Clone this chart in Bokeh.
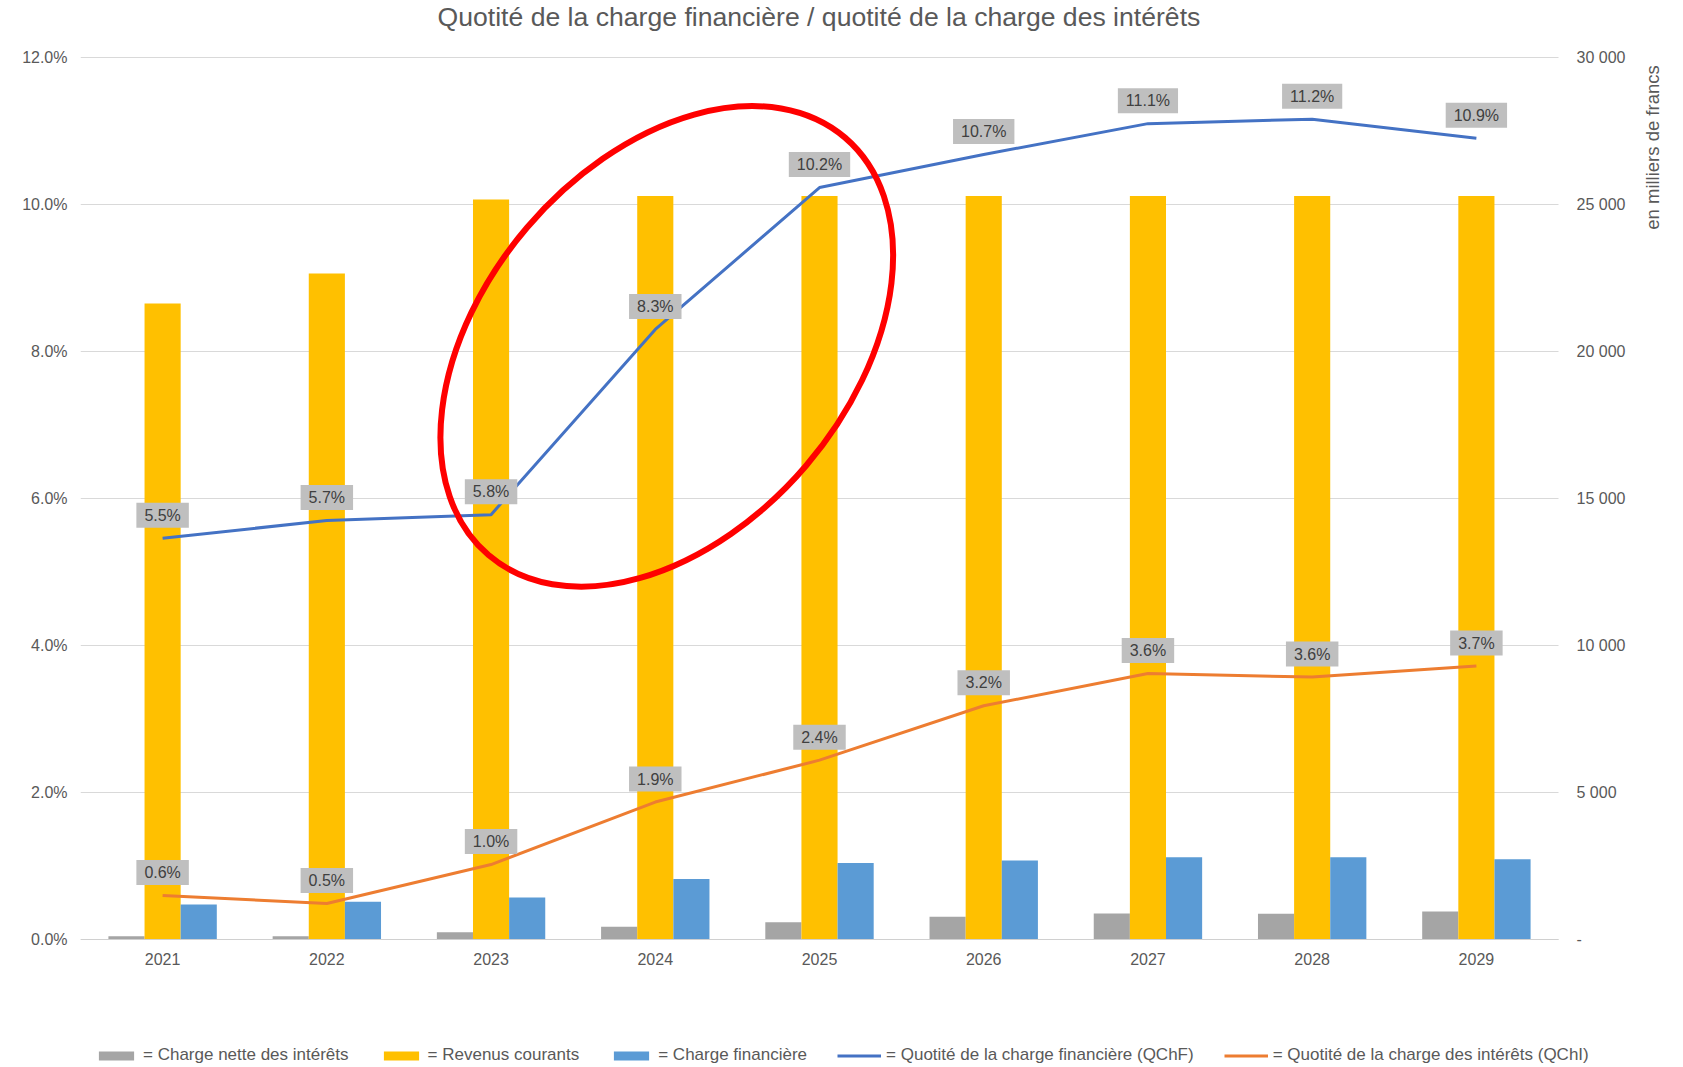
from bokeh.plotting import figure
from bokeh.models import (Range1d, LinearAxis, FixedTicker, PrintfTickFormatter,
                          Legend, LegendItem, ColumnDataSource, Title)
from bokeh.embed import file_html
from bokeh.resources import INLINE
from bokeh.core.properties import value

# ---------------- data ----------------
years = ["2021", "2022", "2023", "2024", "2025", "2026", "2027", "2028", "2029"]
charge_nette_interets = [110, 110, 250, 430, 590, 770, 885, 880, 950]          # milliers de francs
revenus_courants = [21630, 22650, 25170, 25290, 25290, 25290, 25290, 25290, 25290]
charge_financiere = [1190, 1280, 1430, 2060, 2605, 2690, 2800, 2800, 2730]
qchf = [5.46, 5.70, 5.78, 8.30, 10.23, 10.68, 11.10, 11.16, 10.90]            # %
qchi = [0.60, 0.49, 1.02, 1.87, 2.44, 3.18, 3.62, 3.57, 3.72]                  # %

left_ticks = [0, 2, 4, 6, 8, 10, 12]
right_ticks = [0, 5000, 10000, 15000, 20000, 25000, 30000]
right_tick_labels = ["-", "5 000", "10 000", "15 000", "20 000", "25 000", "30 000"]

title_text = "Quotité de la charge financière / quotité de la charge des intérêts"
right_axis_title = "en milliers de francs"
legend_labels = ["= Charge nette des intérêts", "= Revenus courants", "= Charge financière",
                 "= Quotité de la charge financière (QChF)",
                 "= Quotité de la charge des intérêts (QChI)"]

# hand-drawn red ellipse highlight (category index, % axis)
highlight_center = (3.07, 8.07)
highlight_size_px = (549, 367)
highlight_angle_deg = 49.5

FONT = "Liberation Sans"
TXT = "#595959"
GRAY, YELLOW, BLUE, LBLUE, ORANGE = "#A5A5A5", "#FFC000", "#5B9BD5", "#4472C4", "#ED7D31"

# ---------------- layout geometry (pixels) ----------------
W, H = 1680, 1067
PLOT_LEFT, PLOT_RIGHT, PLOT_TOP = 80, 1558, 57     # category area
FRAME_TOP = 44                                     # drawing frame starts a bit higher
ZERO_Y = 939                                       # pixel row of the 0 baseline
TITLE_LEFT = 437
RAXIS_TITLE_X, RAXIS_TITLE_Y = 1652, 147
PCT_MAX, MONEY_MAX = 12, 30000
n = len(years)
px_per_pct = (ZERO_Y - PLOT_TOP) / PCT_MAX
px_per_cat = (PLOT_RIGHT - PLOT_LEFT) / n
pct_min = -(H - ZERO_Y) / px_per_pct           # frame extended below 0 (legend area)
pct_top = PCT_MAX + (PLOT_TOP - FRAME_TOP) / px_per_pct
x_max = -0.5 + (W - PLOT_LEFT) / px_per_cat    # frame extended right (right axis area)
x_end = n - 0.5
money_per_pct = MONEY_MAX / PCT_MAX

idx = list(range(n))
BW = 0.22

src = ColumnDataSource(dict(
    x=idx,
    xg=[i - BW for i in idx],
    xb=[i + BW for i in idx],
    gray=charge_nette_interets,
    yellow=revenus_courants,
    blue=charge_financiere,
    qchf=qchf,
    qchi=qchi,
    qchf_lbl=[f"{v:.1f}%" for v in qchf],
    qchi_lbl=[f"{v:.1f}%" for v in qchi],
))

p = figure(width=W, height=H, output_backend="svg", toolbar_location=None,
           x_range=Range1d(-0.5, x_max), y_range=Range1d(pct_min, pct_top),
           min_border_left=PLOT_LEFT, min_border_right=0,
           min_border_top=FRAME_TOP, min_border_bottom=0)
p.extra_y_ranges = {"money": Range1d(pct_min * money_per_pct, pct_top * money_per_pct)}
p.outline_line_color = None
p.background_fill_color = "white"

# title (with a small spacer between it and the drawing frame)
try:
    p.title = None
except Exception:
    p.title.text = ""
p.add_layout(Title(text=" ", text_font_size="8px", standoff=0), "above")
p.add_layout(Title(text=title_text, align="left", offset=TITLE_LEFT - PLOT_LEFT,
                   vertical_align="top", standoff=0,
                   text_font=FONT, text_font_size="26.6px", text_font_style="normal",
                   text_color=TXT), "above")

# x axis, pinned at 0
xa = p.xaxis[0]
xa.fixed_location = 0
xa.bounds = (-0.5, x_end)
xa.ticker = FixedTicker(ticks=idx)
xa.major_label_overrides = {i: y for i, y in enumerate(years)}
xa.major_tick_out = 0
xa.major_tick_in = 0
xa.minor_tick_out = 0
xa.minor_tick_in = 0
xa.axis_line_color = "#D0D0D0"
xa.major_label_text_font = FONT
xa.major_label_text_font_size = "16px"
xa.major_label_text_color = TXT
xa.major_label_standoff = 13

# left axis
ya = p.yaxis[0]
ya.ticker = FixedTicker(ticks=left_ticks)
ya.formatter = PrintfTickFormatter(format="%.1f%%")
ya.axis_line_color = None
ya.major_tick_out = 0
ya.major_tick_in = 0
ya.minor_tick_out = 0
ya.minor_tick_in = 0
ya.major_label_text_font = FONT
ya.major_label_text_font_size = "16px"
ya.major_label_text_color = TXT
ya.major_label_standoff = 13

# right axis, pinned at the right end of the categories
ra = LinearAxis(y_range_name="money", ticker=FixedTicker(ticks=right_ticks),
                fixed_location=x_end)
ra.major_label_overrides = {t: l for t, l in zip(right_ticks, right_tick_labels)}
ra.axis_line_color = None
ra.major_tick_out = 0
ra.major_tick_in = 0
ra.minor_tick_out = 0
ra.minor_tick_in = 0
ra.major_label_text_font = FONT
ra.major_label_text_font_size = "16px"
ra.major_label_text_color = TXT
ra.major_label_standoff = 18
p.add_layout(ra, "right")

# horizontal grid lines (only across the category area)
p.xgrid.visible = False
p.ygrid.visible = False
p.segment(x0=[-0.5] * len(left_ticks), x1=[x_end] * len(left_ticks),
          y0=left_ticks, y1=left_ticks, line_color="#D9D9D9", line_width=1)

# right axis title
p.text(x=[x_end + (RAXIS_TITLE_X - PLOT_RIGHT) / px_per_cat],
       y=[(ZERO_Y - RAXIS_TITLE_Y) / px_per_pct], text=[right_axis_title],
       angle=90, angle_units="deg", text_align="center", text_baseline="middle",
       text_font=value(FONT), text_font_size="18.5px", text_color=TXT)

# bars
r_gray = p.vbar(x="xg", top="gray", width=BW, source=src, y_range_name="money",
                fill_color=GRAY, line_color=None)
r_yel = p.vbar(x="x", top="yellow", width=BW, source=src, y_range_name="money",
               fill_color=YELLOW, line_color=None)
r_blue = p.vbar(x="xb", top="blue", width=BW, source=src, y_range_name="money",
                fill_color=BLUE, line_color=None)

# lines
r_qchf = p.line(x="x", y="qchf", source=src, line_color=LBLUE, line_width=3)
r_qchi = p.line(x="x", y="qchi", source=src, line_color=ORANGE, line_width=3)

# data labels
for col in ("qchf", "qchi"):
    p.text(x="x", y=col, text=col + "_lbl", source=src, y_offset=-23,
           text_align="center", text_baseline="middle",
           text_font=value(FONT), text_font_size="16px", text_color="#404040",
           background_fill_color="#BFBFBF", border_line_color=None,
           padding=dict(left=8, right=8, top=4, bottom=4))

# red highlight ellipse
p.ellipse(x=[highlight_center[0]], y=[highlight_center[1]],
          width=highlight_size_px[0], height=highlight_size_px[1],
          width_units="screen", height_units="screen",
          angle=highlight_angle_deg, angle_units="deg",
          fill_alpha=0, line_color="#FF0000", line_width=6, level="overlay")

# legend at the bottom of the (extended) plot area
items = [LegendItem(label=l, renderers=[r]) for l, r in
         zip(legend_labels, [r_gray, r_yel, r_blue, r_qchf, r_qchi])]
legend = Legend(items=items, orientation="horizontal", location=(14, 2),
                padding=0, margin=0, spacing=30, label_standoff=5,
                glyph_width=44, glyph_height=11,
                label_text_font=FONT, label_text_font_size="17px",
                label_text_color=TXT, border_line_color=None,
                background_fill_alpha=0)
p.add_layout(legend)

open("out.html", "w").write(file_html(p, INLINE))
